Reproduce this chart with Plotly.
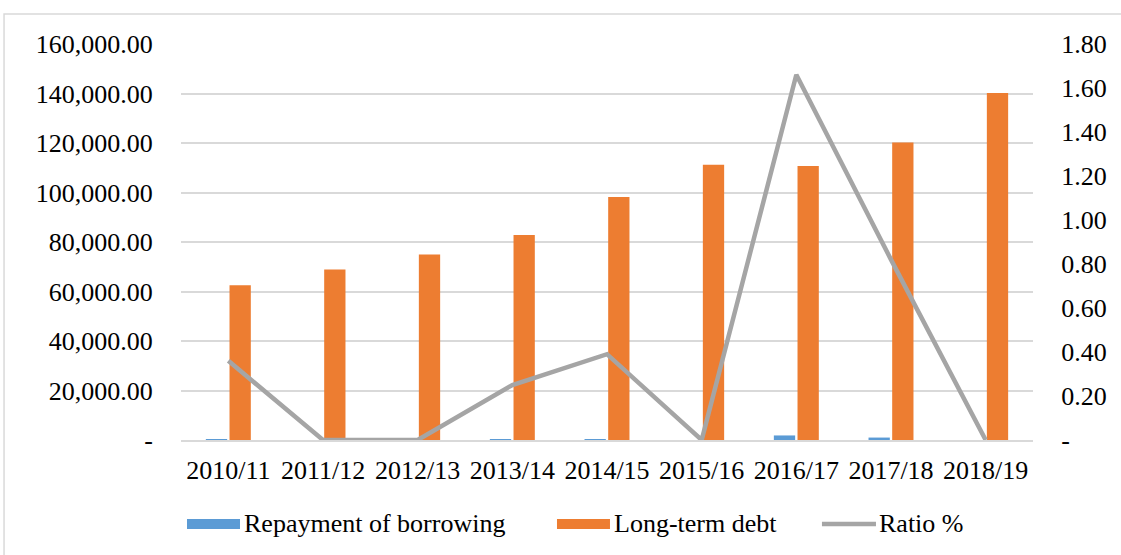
import plotly.graph_objects as go

years = ["2010/11", "2011/12", "2012/13", "2013/14", "2014/15", "2015/16", "2016/17", "2017/18", "2018/19"]
repayment = [225, 0, 0, 207, 383, 0, 1840, 985, 0]
long_term_debt = [62500, 68900, 75000, 82800, 98200, 111200, 110700, 120200, 140200]
ratio = [0.36, 0.0, 0.0, 0.25, 0.39, 0.0, 1.66, 0.82, 0.0]
series_names = ["Repayment of borrowing", "Long-term debt", "Ratio %"]
series_colors = ["#5B9BD5", "#ED7D31", "#A5A5A5"]

left_ticks = [0, 20000, 40000, 60000, 80000, 100000, 120000, 140000, 160000]
left_text = ["-"] + [f"{v:,.2f}" for v in left_ticks[1:]]
right_ticks = [0, 0.2, 0.4, 0.6, 0.8, 1.0, 1.2, 1.4, 1.6, 1.8]
right_text = ["-"] + [f"{v:.2f}" for v in right_ticks[1:]]

FONT = "Liberation Serif"
FS = 26
fig = go.Figure()
fig.add_trace(go.Bar(x=years, y=repayment, name=series_names[0],
                     marker=dict(color=series_colors[0], line=dict(width=0))))
fig.add_trace(go.Bar(x=years, y=long_term_debt, name=series_names[1],
                     marker=dict(color=series_colors[1], line=dict(width=0))))
fig.add_trace(go.Scatter(x=years, y=ratio, name=series_names[2], yaxis="y2", mode="lines",
                         line=dict(color=series_colors[2], width=4.5)))

# chart-area border + custom legend (Excel-style wide swatches)
shapes = [dict(type="rect", xref="paper", yref="paper",
               x0=-0.2077, x1=1.12, y0=-0.32, y1=1.0758,
               line=dict(color="#D9D9D9", width=1.5), fillcolor="rgba(0,0,0,0)",
               layer="below")]
annotations = []
leg_y = -0.2121
swatch_x = [(0.00704, 0.06925), (0.4413, 0.5035), (0.7523, 0.8157)]
text_x = [0.0716, 0.5059, 0.8169]
for i in range(3):
    x0, x1 = swatch_x[i]
    if i < 2:
        shapes.append(dict(type="rect", xref="paper", yref="paper", x0=x0, x1=x1,
                           y0=-0.2247, y1=-0.1995, fillcolor=series_colors[i],
                           line=dict(width=0)))
    else:
        shapes.append(dict(type="line", xref="paper", yref="paper", x0=x0, x1=x1,
                           y0=leg_y, y1=leg_y,
                           line=dict(color=series_colors[i], width=4.5)))
    annotations.append(dict(text=series_names[i], xref="paper", yref="paper",
                            x=text_x[i], y=leg_y, xanchor="left", yanchor="middle",
                            showarrow=False, font=dict(family=FONT, size=FS, color="#000000")))

fig.update_layout(
    width=1121, height=555,
    margin=dict(l=181, r=88, t=44, b=115),
    paper_bgcolor="white", plot_bgcolor="white",
    font=dict(family=FONT, size=FS, color="#000000"),
    barmode="group", bargap=0.5, bargroupgap=0.1,
    showlegend=False,
    xaxis=dict(showgrid=False, showline=True, linecolor="#D9D9D9", linewidth=1.5,
               ticks="", tickfont=dict(family=FONT, size=FS), ticklabelstandoff=6),
    yaxis=dict(range=[0, 160000], tickvals=left_ticks, ticktext=left_text,
               showgrid=True, gridcolor="#D9D9D9", gridwidth=1.5, zeroline=False,
               showline=False, ticks="outside", ticklen=22, tickcolor="rgba(0,0,0,0)",
               tickfont=dict(family=FONT, size=FS)),
    yaxis2=dict(range=[0, 1.8], tickvals=right_ticks, ticktext=right_text,
                overlaying="y", side="right", showgrid=False, zeroline=False,
                showline=False, ticks="outside", ticklen=22, tickcolor="rgba(0,0,0,0)",
                tickfont=dict(family=FONT, size=FS)),
    shapes=shapes,
    annotations=annotations,
)

fig.write_html("out.html", config={"displayModeBar": False},
               post_script="document.body.style.margin='0';")
